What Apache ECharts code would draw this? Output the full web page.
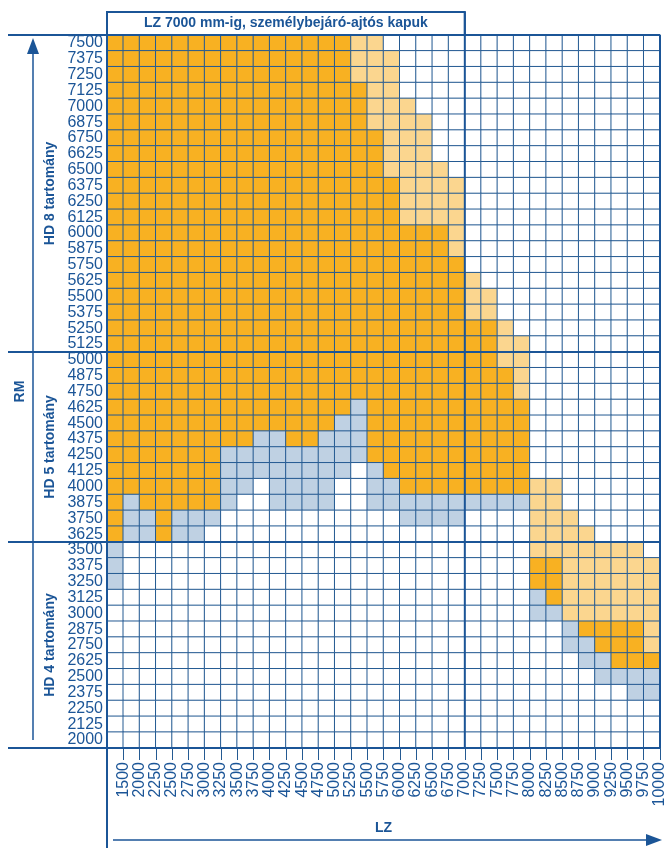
<!DOCTYPE html>
<html><head><meta charset="utf-8">
<script src="https://cdn.jsdelivr.net/npm/echarts@6/dist/echarts.min.js"></script>
<style>html,body{margin:0;padding:0;background:#fff}#c{width:670px;height:848px}</style>
</head><body><div id="c"></div>
<script>
// LZ column labels (right edge of each column)
const lzLabels = ['1500','2000','2250','2500','2750','3000','3250','3500','3750','4000','4250','4500','4750','5000','5250','5500','5750','6000','6250','6500','6750','7000','7250','7500','7750','8000','8250','8500','8750','9000','9250','9500','9750','10000'];
// RM row labels, top to bottom
const rmLabels = ['7500','7375','7250','7125','7000','6875','6750','6625','6500','6375','6250','6125','6000','5875','5750','5625','5500','5375','5250','5125','5000','4875','4750','4625','4500','4375','4250','4125','4000','3875','3750','3625','3500','3375','3250','3125','3000','2875','2750','2625','2500','2375','2250','2125','2000'];
// cell classes per row (run lengths), O = orange, L = light orange, B = light blue, W = white
const cellRuns = [
 'O15 L2 W17','O15 L3 W16','O15 L3 W16','O16 L2 W16','O16 L3 W15','O16 L4 W14','O17 L3 W14','O17 L3 W14','O17 L4 W13',
 'O18 L4 W12','O18 L4 W12','O18 L4 W12','O21 L1 W12','O21 L1 W12','O22 W12','O22 L1 W11','O22 L2 W10','O22 L2 W10',
 'O24 L1 W9','O24 L2 W8','O24 L2 W8','O25 L1 W8','O25 L1 W8','O15 B1 O10 W8','O14 B2 O10 W8','O9 B2 O2 B3 O10 W8',
 'O7 B9 O10 W8','O7 B8 W1 B1 O9 W8','O7 B2 W1 B4 W2 B2 O8 L2 W6','O1 B1 O5 B1 W2 B4 W2 B10 L2 W6',
 'O1 B2 O1 B3 W11 B4 W4 L3 W5','O1 B2 O1 B2 W20 L4 W4','B1 W25 L7 W1','B1 W25 O2 L6','B1 W25 O2 L6','W26 B1 O1 L6',
 'W26 B2 L6','W28 B1 O4 L1','W28 B2 O3 L1','W29 B2 O3','W30 B4','W32 B2','W34','W34','W34'
];
const classCodes = {W:0, L:1, B:2, O:3};
const classColors = ['#FFFFFF','#FBD68F','#BFD1E3','#F8B122'];

const BLUE = '#1B5597';
const LINE = '#245A92';
const FONT = '"Liberation Sans", Arial, sans-serif';

const data = [];
cellRuns.forEach((row, r) => {
  let c = 0;
  row.split(' ').forEach(tok => {
    const code = classCodes[tok[0]], n = parseInt(tok.slice(1), 10);
    for (let i = 0; i < n; i++) { data.push([c, r, code]); c++; }
  });
});

const G = {left:107, top:35, width:553, height:713};
const rowH = G.height / rmLabels.length;
const colW = G.width / lzLabels.length;
const yAt = lab => G.top + rmLabels.indexOf(lab) * rowH;
const xAt = lab => G.left + (lzLabels.indexOf(lab) + 1) * colW;

const chart = echarts.init(document.getElementById('c'));
const hl = (y, x1, x2, w) => ({type:'line', z:10, shape:{x1:x1, y1:y, x2:x2, y2:y}, style:{stroke:BLUE, lineWidth:w}});
const vl = (x, y1, y2, w) => ({type:'line', z:10, shape:{x1:x, y1:y1, x2:x, y2:y2}, style:{stroke:BLUE, lineWidth:w}});
const rtext = (x, y, t) => ({type:'text', z:10, x:x, y:y, rotation:Math.PI/2, style:{text:t, font:'bold 14px ' + FONT, fill:BLUE, textAlign:'center', textVerticalAlign:'middle'}});

const yTop = G.top, yBot = G.top + G.height, xR = G.left + G.width;
const y5000 = yAt('5000'), y3500 = yAt('3500');
const x7000 = xAt('7000');

chart.setOption({
  animation:false,
  grid:{left:G.left, top:G.top, width:G.width, height:G.height, outerBoundsMode:'none'},
  xAxis:[
    {type:'category', data:lzLabels, show:false},
    {type:'value', min:0, max:34, interval:1, position:'bottom',
      axisLine:{show:false}, splitLine:{show:false},
      axisTick:{show:true, length:12, lineStyle:{color:LINE, width:1}},
      axisLabel:{rotate:90, margin:14, fontSize:16, color:BLUE, fontFamily:FONT,
        formatter: v => { const i = Math.round(v); return i === 0 ? '' : lzLabels[i-1]; }}}
  ],
  yAxis:[{type:'category', data:rmLabels, inverse:true,
    axisLine:{show:false}, axisTick:{show:false}, splitLine:{show:false},
    axisLabel:{interval:0, margin:4, fontSize:16, color:BLUE, fontFamily:FONT}}],
  visualMap:{type:'piecewise', show:false, dimension:2, seriesIndex:0,
    pieces: classColors.map((col, i) => ({value:i, color:col}))},
  series:[{type:'heatmap', xAxisIndex:0, yAxisIndex:0, data:data,
    itemStyle:{borderColor:LINE, borderWidth:1}, emphasis:{disabled:true}}],
  graphic:[
    {type:'rect', z:10, shape:{x:G.left, y:12, width:x7000 - G.left, height:yTop - 12}, style:{fill:null, stroke:BLUE, lineWidth:2}},
    {type:'text', z:10, x:(G.left + x7000)/2, y:(12 + yTop)/2, style:{text:'LZ 7000 mm-ig, személybejáró-ajtós kapuk', font:'bold 14px ' + FONT, fill:BLUE, textAlign:'center', textVerticalAlign:'middle'}},
    hl(yTop, 8, xR, 2), hl(y5000, 8, xR, 2), hl(y3500, 8, xR, 2), hl(yBot, 8, xR, 2),
    vl(G.left, 12, 848, 2), vl(x7000, 12, yBot, 2), vl(xR, yTop, yBot, 2),
    vl(33, 50, yBot - 8, 1.5),
    {type:'polygon', z:10, shape:{points:[[27,54],[39,54],[33,38]]}, style:{fill:BLUE}},
    rtext(20, (yTop + yBot)/2, 'RM'),
    rtext(50, (yTop + y5000)/2, 'HD 8 tartomány'),
    rtext(50, (y5000 + y3500)/2, 'HD 5 tartomány'),
    rtext(50, (y3500 + yBot)/2, 'HD 4 tartomány'),
    hl(840, 113, 650, 1.5),
    {type:'polygon', z:10, shape:{points:[[646,834],[646,846],[662,840]]}, style:{fill:BLUE}},
    {type:'text', z:10, x:(G.left + xR)/2, y:828, style:{text:'LZ', font:'bold 14px ' + FONT, fill:BLUE, textAlign:'center', textVerticalAlign:'middle'}}
  ]
});
</script></body></html>
